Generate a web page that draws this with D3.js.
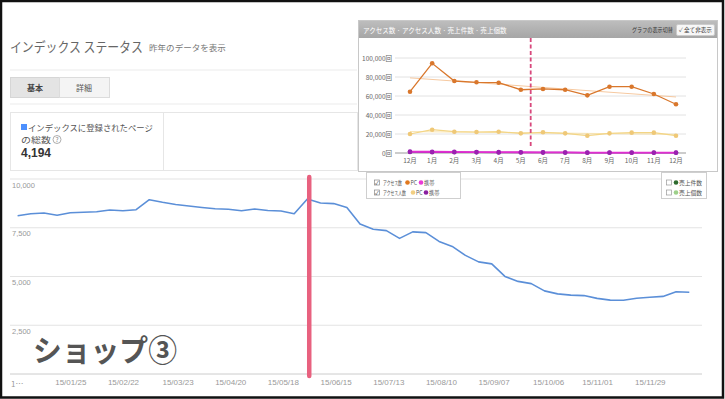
<!DOCTYPE html>
<html>
<head>
<meta charset="utf-8">
<script src="https://cdn.jsdelivr.net/npm/d3@7"></script>
<style>
  body { margin: 0; background: #fff; }
  svg { display: block; font-family: "Noto Sans CJK JP", "Noto Sans", sans-serif; }
</style>
</head>
<body>
<div id="chart"></div>
<script>
// main chart: weekly index count
const startDate = '2014-12-28'
const indexCounts = [
  8118, 8221, 8256, 8138, 8272, 8292, 8323, 8410, 8374, 8426,
  8938, 8805, 8692, 8615, 8538, 8472, 8446, 8369, 8461, 8385,
  8359, 8221, 8975, 8769, 8738, 8533, 7697, 7426, 7354, 6954,
  7287, 7251, 6800, 6544, 6082, 5749, 5646, 5005, 4749, 4636,
  4262, 4108, 4046, 4021, 3877, 3790, 3785, 3887, 3938, 3979,
  4220, 4194
]
const xTickLabels = ['15/01/25', '15/02/22', '15/03/23', '15/04/20', '15/05/18', '15/06/15',
  '15/07/13', '15/08/10', '15/09/07', '15/10/06', '15/11/01', '15/11/29']
const yTicks = [2500, 5000, 7500, 10000]
const markerDate = '15/06/01'

// inset chart: monthly access
const months = ['12月', '1月', '2月', '3月', '4月', '5月', '6月', '7月', '8月', '9月', '10月', '11月', '12月']
const accessPC = [64500, 94400, 75800, 74400, 74000, 66600, 67400, 66600, 60700, 69800, 69800, 62100, 51300]
const visitorsPC = [20000, 24500, 22400, 22100, 22400, 20700, 21800, 20700, 18200, 20700, 21400, 21400, 18200]
const accessMobile = [1500, 1300, 1200, 1000, 900, 800, 700, 600, 500, 500, 400, 400, 400]
const visitorsMobile = [1000, 800, 800, 700, 600, 500, 400, 400, 300, 300, 300, 300, 300]
const insetYTicks = [0, 20000, 40000, 60000, 80000, 100000]

const W = 725, H = 399
const svg = d3.select('#chart').append('svg').attr('width', W).attr('height', H)
const parse = d3.timeParse('%y/%m/%d')
const start = d3.timeParse('%Y-%m-%d')(startDate)
const dates = indexCounts.map((d, i) => d3.timeWeek.offset(start, i))

// text squeezed horizontally to a measured width
function label(g, x, y, str, size, len, fill, weight) {
  const t = g.append('text').attr('font-size', size).attr('fill', fill)
    .attr('font-weight', weight || 'normal').text(str)
  const w = t.node().getComputedTextLength() || len
  t.attr('transform', `translate(${x},${y}) scale(${len / w},1)`)
  return t
}

// ---------- header ----------
label(svg, 10, 52, 'インデックス ステータス', 13.5, 133, '#666')
label(svg, 149, 51, '昨年のデータを表示', 8.5, 77, '#777')
svg.append('line').attr('x1', 10).attr('x2', 357).attr('y1', 70).attr('y2', 70).attr('stroke', '#ebebeb')

svg.append('rect').attr('x', 10.5).attr('y', 77.5).attr('width', 49).attr('height', 20)
  .attr('fill', '#e4e4e4').attr('stroke', '#d6d6d6')
svg.append('rect').attr('x', 59.5).attr('y', 77.5).attr('width', 50).attr('height', 20)
  .attr('fill', '#f4f4f4').attr('stroke', '#dcdcdc')
svg.append('text').attr('x', 35).attr('y', 90.5).attr('text-anchor', 'middle').attr('font-size', 8)
  .attr('font-weight', 'bold').attr('fill', '#444').text('基本')
svg.append('text').attr('x', 84).attr('y', 90.5).attr('text-anchor', 'middle').attr('font-size', 8)
  .attr('fill', '#555').text('詳細')
svg.append('line').attr('x1', 10).attr('x2', 357).attr('y1', 104).attr('y2', 104).attr('stroke', '#ebebeb')

svg.append('rect').attr('x', 10.5).attr('y', 112.5).attr('width', 153).attr('height', 58)
  .attr('fill', '#fff').attr('stroke', '#e6e6e6')
svg.append('rect').attr('x', 163.5).attr('y', 112.5).attr('width', 194).attr('height', 58)
  .attr('fill', '#fff').attr('stroke', '#e6e6e6')
svg.append('rect').attr('x', 21).attr('y', 124).attr('width', 6).attr('height', 6).attr('fill', '#4d90fe')
label(svg, 28, 131, 'インデックスに登録されたページ', 8.5, 125, '#555')
label(svg, 21, 143, 'の総数', 8.5, 30, '#555')
svg.append('circle').attr('cx', 57).attr('cy', 139.5).attr('r', 4).attr('fill', 'none').attr('stroke', '#999').attr('stroke-width', 0.8)
svg.append('text').attr('x', 57).attr('y', 142).attr('text-anchor', 'middle').attr('font-size', 6.5)
  .attr('fill', '#888').text('?')
svg.append('text').attr('x', 21).attr('y', 156.5).attr('font-size', 12).attr('font-weight', 'bold')
  .attr('fill', '#333').attr('font-family', '"Liberation Sans", Arial, sans-serif')
  .text(d3.format(',')(indexCounts[indexCounts.length - 1]))

// ---------- main chart ----------
const x = d3.scaleTime().domain([dates[0], dates[dates.length - 1]]).range([17.6, 689.3])
const y = d3.scaleLinear().domain([0, 10000]).range([374, 179])

const grid = svg.append('g')
grid.selectAll('line').data(yTicks).join('line')
  .attr('x1', 10).attr('x2', 702).attr('y1', d => y(d)).attr('y2', d => y(d))
  .attr('stroke', '#e3e3e3')
grid.selectAll('text').data(yTicks).join('text')
  .attr('x', 12).attr('y', d => y(d) + 8.5).attr('font-size', 7.5).attr('fill', '#999')
  .attr('font-family', '"Liberation Sans", Arial, sans-serif')
  .text(d3.format(','))

svg.append('line').attr('x1', 10).attr('x2', 702).attr('y1', y(0)).attr('y2', y(0)).attr('stroke', '#ccc')

const xAxis = svg.append('g').attr('transform', `translate(0,${y(0)})`)
  .call(d3.axisBottom(x).tickValues(xTickLabels.map(parse)).tickSize(0).tickPadding(5)
    .tickFormat(d3.timeFormat('%y/%m/%d')))
xAxis.select('.domain').remove()
xAxis.selectAll('.tick text').attr('font-size', 8).attr('fill', '#999')
  .attr('font-family', '"Liberation Sans", Arial, sans-serif')
svg.append('text').attr('x', 11).attr('y', y(0) + 13).attr('font-size', 8).attr('fill', '#999').text('1…')

svg.append('path').datum(indexCounts)
  .attr('fill', 'none').attr('stroke', '#5b8fd8').attr('stroke-width', 1.6).attr('stroke-linejoin', 'round')
  .attr('d', d3.line().x((d, i) => x(dates[i])).y(d => y(d)))

svg.append('line').attr('x1', x(parse(markerDate))).attr('x2', x(parse(markerDate)))
  .attr('y1', 177).attr('y2', 376).attr('stroke', '#e8617f').attr('stroke-width', 4.5)
  .attr('stroke-linecap', 'round')

label(svg, 33, 361, 'ショップ③', 30, 144, '#555', 'bold')

// ---------- inset panel ----------
const panel = svg.append('g')
panel.append('rect').attr('x', 358.5).attr('y', 20.5).attr('width', 359).attr('height', 151)
  .attr('fill', '#fff').attr('stroke', '#c8c8c8')
const grad = svg.append('defs').append('linearGradient').attr('id', 'hdr').attr('x1', 0).attr('x2', 0).attr('y1', 0).attr('y2', 1)
grad.append('stop').attr('offset', 0).attr('stop-color', '#bdbdbd')
grad.append('stop').attr('offset', 1).attr('stop-color', '#a6a6a6')
panel.append('rect').attr('x', 359).attr('y', 21).attr('width', 358).attr('height', 17).attr('fill', 'url(#hdr)')
label(panel, 363, 32.5, 'アクセス数 · アクセス人数 · 売上件数 · 売上個数', 7, 144, '#fff')
label(panel, 632, 32, 'グラフの表示切替', 6, 41, '#333')
panel.append('rect').attr('x', 676.5).attr('y', 24.5).attr('width', 38).attr('height', 11).attr('rx', 1.5)
  .attr('fill', '#f7f7f7').attr('stroke', '#ccc')
label(panel, 679, 32, '✓ 全て非表示', 6, 33, '#444')

const ix = d3.scalePoint().domain(d3.range(months.length)).range([410, 676])
const iy = d3.scaleLinear().domain([0, 100000]).range([153, 58])

panel.selectAll('.igrid').data(insetYTicks).join('line').attr('class', 'igrid')
  .attr('x1', 395).attr('x2', 686).attr('y1', d => iy(d)).attr('y2', d => iy(d))
  .attr('stroke', d => d === 0 ? '#999' : '#e2e2e2')
panel.selectAll('.iylab').data(insetYTicks).join('text').attr('class', 'iylab')
  .attr('x', 392).attr('y', d => iy(d) + 2.5).attr('text-anchor', 'end').attr('font-size', 6.5)
  .attr('fill', '#666').text(d => d3.format(',')(d) + '回')
panel.selectAll('.ixlab').data(months).join('text').attr('class', 'ixlab')
  .attr('x', (d, i) => ix(i)).attr('y', 163).attr('text-anchor', 'middle').attr('font-size', 6.5)
  .attr('fill', '#666').text(d => d)

// trend lines from the PC series
function trend(values) {
  const n = values.length, mx = (n - 1) / 2, my = d3.mean(values)
  const slope = d3.sum(values, (v, i) => (i - mx) * (v - my)) / d3.sum(values, (v, i) => (i - mx) ** 2)
  return [my - slope * mx, my + slope * mx]
}
;[[accessPC, '#f6c9a0'], [visitorsPC, '#f7e3b0']].forEach(([vals, col]) => {
  const t = trend(vals)
  panel.append('line').attr('x1', ix(0)).attr('x2', ix(vals.length - 1))
    .attr('y1', iy(t[0])).attr('y2', iy(t[1])).attr('stroke', col).attr('stroke-width', 1)
})

const series = [
  { values: visitorsPC, line: '#f3d585', dot: '#efc877', w: 1.2 },
  { values: accessPC, line: '#d9772c', dot: '#d9772c', w: 1.3 },
  { values: visitorsMobile, line: '#9a2cb0', dot: '#8a1fa0', w: 1.5 },
  { values: accessMobile, line: '#e02fd0', dot: '#9a22b0', w: 1.8 },
]
const iline = d3.line().x((d, i) => ix(i)).y(d => iy(d))
series.forEach(s => {
  panel.append('path').datum(s.values).attr('fill', 'none').attr('stroke', s.line)
    .attr('stroke-width', s.w).attr('d', iline)
  panel.append('g').selectAll('circle').data(s.values).join('circle')
    .attr('cx', (d, i) => ix(i)).attr('cy', d => iy(d)).attr('r', 2.3).attr('fill', s.dot)
})

panel.append('line').attr('x1', 530.7).attr('x2', 530.7).attr('y1', 38).attr('y2', 148)
  .attr('stroke', '#d8487c').attr('stroke-width', 1.8).attr('stroke-dasharray', '4,2.5')

// legend boxes
panel.append('rect').attr('x', 366.5).attr('y', 172.5).attr('width', 94).attr('height', 26)
  .attr('fill', '#fff').attr('stroke', '#cfcfcf')
panel.append('rect').attr('x', 661.5).attr('y', 172.5).attr('width', 45).attr('height', 26)
  .attr('fill', '#fff').attr('stroke', '#cfcfcf')
const legLeft = [
  { y: 182.5, label: 'アクセス数', len: 19, a: '#e0781e', b: '#e93cd6', dotA: 407.5, dotB: 421 },
  { y: 192.5, label: 'アクセス人数', len: 23, a: '#f2cf82', b: '#8a1fa0', dotA: 413, dotB: 426 },
]
legLeft.forEach(r => {
  panel.append('rect').attr('x', 374.5).attr('y', r.y - 2.5).attr('width', 5).attr('height', 5)
    .attr('fill', '#fff').attr('stroke', '#888').attr('stroke-width', 0.7)
  panel.append('text').attr('x', 375).attr('y', r.y + 2).attr('font-size', 5.5).attr('fill', '#333').text('✓')
  label(panel, 383, r.y + 2.2, r.label, 6, r.len, '#555')
  panel.append('circle').attr('cx', r.dotA).attr('cy', r.y).attr('r', 2.3).attr('fill', r.a)
  label(panel, r.dotA + 3, r.y + 2.2, 'PC', 5.5, 6.5, '#555')
  panel.append('circle').attr('cx', r.dotB).attr('cy', r.y).attr('r', 2.3).attr('fill', r.b)
  label(panel, r.dotB + 3, r.y + 2.2, '携帯', 6, 10.5, '#555')
})
const legRight = [
  { y: 182.5, label: '売上件数', c: '#2e6b2e' },
  { y: 192.5, label: '売上個数', c: '#9ed08a' },
]
legRight.forEach(r => {
  panel.append('rect').attr('x', 666.5).attr('y', r.y - 2.5).attr('width', 5).attr('height', 5)
    .attr('fill', '#fff').attr('stroke', '#999').attr('stroke-width', 0.7)
  panel.append('circle').attr('cx', 676).attr('cy', r.y).attr('r', 2.3).attr('fill', r.c)
  label(panel, 679, r.y + 2.2, r.label, 6, 23, '#555')
})

// frame
svg.append('rect').attr('x', 1).attr('y', 1).attr('width', W - 3).attr('height', H - 2.5)
  .attr('fill', 'none').attr('stroke', '#111').attr('stroke-width', 2.5)
</script>
</body>
</html>
